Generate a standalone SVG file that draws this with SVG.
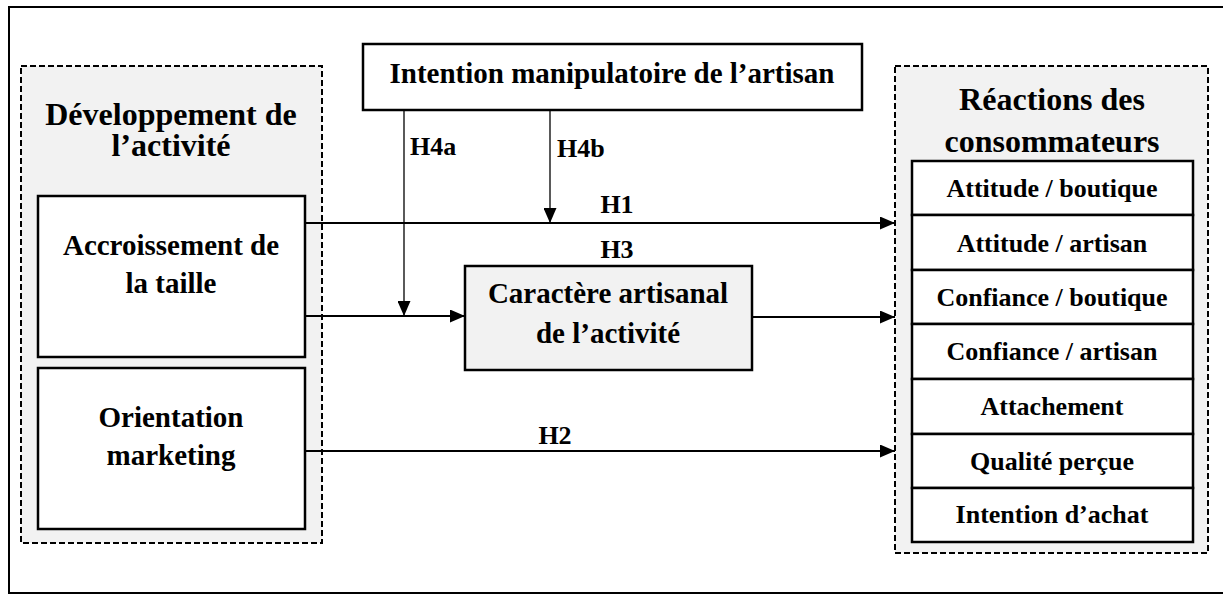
<svg xmlns="http://www.w3.org/2000/svg" width="1223" height="595" viewBox="0 0 1223 595">
<defs>
<marker id="arr" viewBox="0 0 15 13" refX="15" refY="6.5" markerWidth="15" markerHeight="13" markerUnits="userSpaceOnUse" orient="auto">
<path d="M0,0 L15,6.5 L0,13 Z" fill="#000"/>
</marker>
</defs>
<style>
text{font-family:"Liberation Serif","Times New Roman",serif;font-weight:bold;fill:#000;text-anchor:middle}
.title{font-size:32px}
.node{font-size:29px}
.item{font-size:26px}
.lbl{font-size:26px}
.grp{fill:#f2f2f2;stroke:#000;stroke-width:2;stroke-dasharray:6,3}
.box{fill:#fff;stroke:#000;stroke-width:2.5}
.gbox{fill:#f2f2f2;stroke:#000;stroke-width:2.5}
.c{stroke:#000;stroke-width:2;fill:none}
.v{stroke:#000;stroke-width:1.3;fill:none}
</style>
<rect x="0" y="0" width="1223" height="595" fill="#fff"/>
<rect x="9" y="7" width="1230" height="586" fill="none" stroke="#000" stroke-width="2"/>

<g id="dev">
<rect class="grp" x="21" y="66" width="301" height="477"/>
<text class="title" x="171" y="125">Développement de</text>
<text class="title" x="171" y="156">l’activité</text>
</g>
<g id="accroissement">
<rect class="box" x="38" y="196" width="267" height="161"/>
<text class="node" x="171" y="255">Accroissement de</text>
<text class="node" x="171" y="293">la taille</text>
</g>
<g id="orientation">
<rect class="box" x="38" y="368" width="267" height="161"/>
<text class="node" x="171" y="427">Orientation</text>
<text class="node" x="171" y="465">marketing</text>
</g>
<g id="intention">
<rect class="box" x="363" y="44" width="499" height="66"/>
<text class="node" x="612" y="83">Intention manipulatoire de l’artisan</text>
</g>
<g id="caractere">
<rect class="gbox" x="465" y="266" width="287" height="104"/>
<text class="node" x="608" y="303">Caractère artisanal</text>
<text class="node" x="608" y="343">de l’activité</text>
</g>
<g id="reactions">
<rect class="grp" x="895" y="66" width="313" height="487"/>
<text class="title" x="1052" y="110">Réactions des</text>
<text class="title" x="1052" y="152">consommateurs</text>
</g>
<g id="r1"><rect class="box" x="912" y="161" width="281" height="54"/><text class="item" x="1052" y="197">Attitude / boutique</text></g>
<g id="r2"><rect class="box" x="912" y="215" width="281" height="55"/><text class="item" x="1052" y="252">Attitude / artisan</text></g>
<g id="r3"><rect class="box" x="912" y="270" width="281" height="54"/><text class="item" x="1052" y="306">Confiance / boutique</text></g>
<g id="r4"><rect class="box" x="912" y="324" width="281" height="55"/><text class="item" x="1052" y="360">Confiance / artisan</text></g>
<g id="r5"><rect class="box" x="912" y="379" width="281" height="55"/><text class="item" x="1052" y="415">Attachement</text></g>
<g id="r6"><rect class="box" x="912" y="434" width="281" height="54"/><text class="item" x="1052" y="470">Qualité perçue</text></g>
<g id="r7"><rect class="box" x="912" y="488" width="281" height="54"/><text class="item" x="1052" y="523">Intention d’achat</text></g>

<g id="connectors">
<line class="c" x1="306" y1="223" x2="895" y2="223" marker-end="url(#arr)"/>
<line class="c" x1="306" y1="316" x2="465" y2="316" marker-end="url(#arr)"/>
<line class="c" x1="752" y1="317" x2="895" y2="317" marker-end="url(#arr)"/>
<line class="c" x1="306" y1="451" x2="895" y2="451" marker-end="url(#arr)"/>
<line class="v" x1="404" y1="110" x2="404" y2="316" marker-end="url(#arr)"/>
<line class="v" x1="550" y1="110" x2="550" y2="223" marker-end="url(#arr)"/>
<text class="lbl" x="410" y="155" style="text-anchor:start">H4a</text>
<text class="lbl" x="557" y="157" style="text-anchor:start">H4b</text>
<text class="lbl" x="617" y="213">H1</text>
<text class="lbl" x="617" y="258">H3</text>
<text class="lbl" x="555" y="444">H2</text>
</g>
</svg>
